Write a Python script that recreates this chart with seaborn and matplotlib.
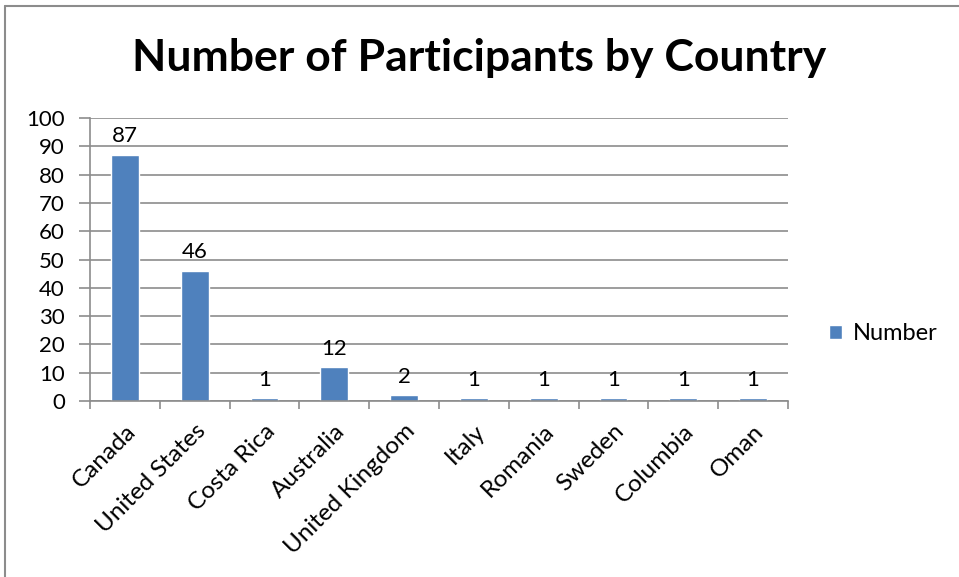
import matplotlib
matplotlib.use("Agg")
import matplotlib.pyplot as plt
import seaborn as sns
import pandas as pd
import numpy as np

countries = ["Canada", "United States", "Costa Rica", "Australia", "United Kingdom",
             "Italy", "Romania", "Sweden", "Columbia", "Oman"]
numbers = [87, 46, 1, 12, 2, 1, 1, 1, 1, 1]
yticks = [0, 10, 20, 30, 40, 50, 60, 70, 80, 90, 100]

sns.set_theme(style="white")
plt.rcParams['font.family'] = ['Lato', 'DejaVu Sans']
plt.rcParams['text.color'] = 'black'
plt.rcParams['xtick.color'] = 'black'
plt.rcParams['ytick.color'] = 'black'

df = pd.DataFrame({"Country": countries, "Number": numbers})

fig = plt.figure(figsize=(9.59, 5.77), dpi=100)
ax = fig.add_axes([0.0938, 0.305, 0.8217 - 0.0938, 0.7955 - 0.305])

sns.barplot(data=df, x="Country", y="Number", color="#4F81BD", width=0.4,
            saturation=1, ax=ax, label="Number")

ax.set_ylim(0, 100)
ax.set_xlim(-0.5, len(countries) - 0.5)
ax.set_yticks(yticks)
ax.set_yticklabels([str(v) for v in yticks], fontsize=16)
ax.yaxis.grid(True, color="#8C8C8C", linewidth=1.2)
ax.set_axisbelow(True)

# x ticks at category boundaries, labels at centers
ax.set_xticks(np.arange(len(countries)))
ax.set_xticklabels(countries, rotation=45, ha="right", rotation_mode="anchor", fontsize=17.5)
ax.tick_params(axis="x", which="major", length=0, pad=14, colors="black")
ax.set_xticks(np.arange(-0.5, len(countries), 1.0), minor=True)
ax.tick_params(axis="x", which="minor", length=6, width=1.2, color="#8C8C8C", direction="out", bottom=True)
ax.tick_params(axis="y", length=8, width=1.2, color="#8C8C8C", labelcolor="black",
               direction="out", left=True, pad=10)

for s in ["top", "right"]:
    ax.spines[s].set_visible(False)
for s in ["left", "bottom"]:
    ax.spines[s].set_color("#8C8C8C")
    ax.spines[s].set_linewidth(1.2)

ax.set_xlabel("")
ax.set_ylabel("")

for i, v in enumerate(numbers):
    ax.annotate(str(v), (i, v), xytext=(0, 6), textcoords="offset points",
                ha="center", va="bottom", fontsize=16, color="black")

ax.legend(loc="center left", bbox_to_anchor=(1.045, 0.237), frameon=False, fontsize=17,
          handlelength=0.55, handleheight=0.55, handletextpad=0.45, borderaxespad=0)

fig.text(0.5, 0.9, "Number of Participants by Country", ha="center", va="center",
         fontsize=32, fontweight="bold", color="black")

# outer chart border (left and top)
fig.add_artist(plt.Line2D([0.0052, 0.0052], [0, 0.99], color="#8C8C8C", linewidth=1.5))
fig.add_artist(plt.Line2D([0.0052, 1.0], [0.99, 0.99], color="#8C8C8C", linewidth=1.5))

fig.savefig("out.png", dpi=100)
